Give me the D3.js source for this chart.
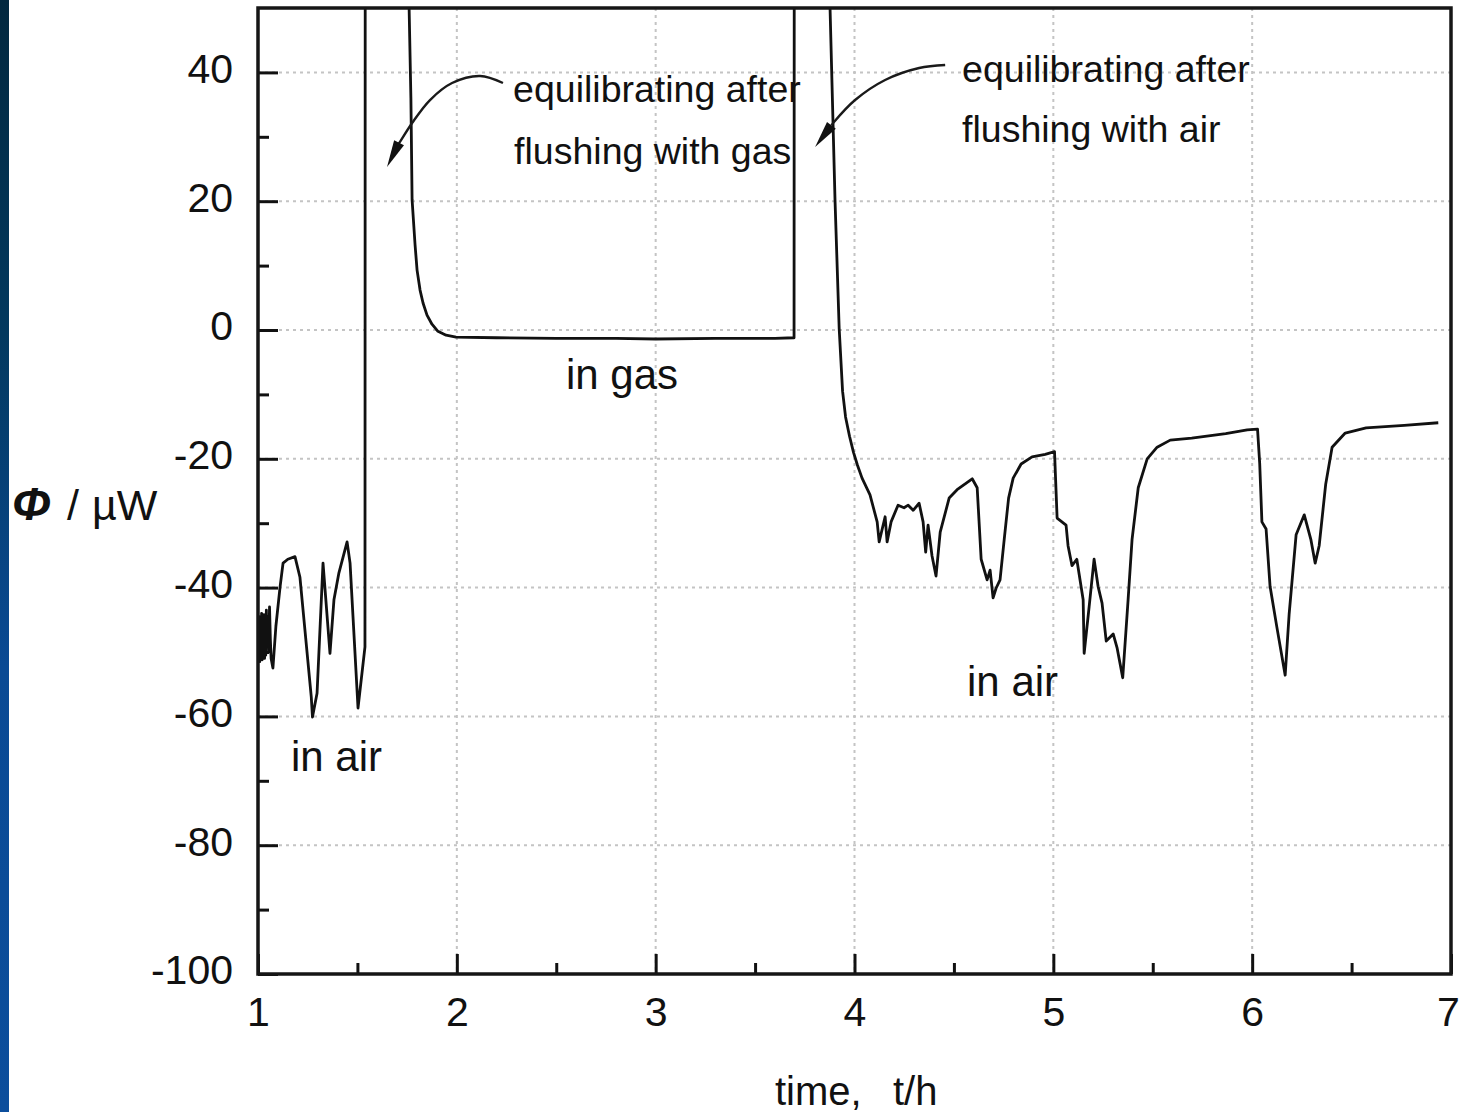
<!DOCTYPE html>
<html>
<head>
<meta charset="utf-8">
<script src="https://cdn.jsdelivr.net/npm/d3@7"></script>
<style>
  html, body { margin: 0; padding: 0; background: #fff; }
  svg { display: block; font-family: "Liberation Sans", Arial, sans-serif; }
</style>
</head>
<body>
<svg id="chart" width="1460" height="1112"></svg>
<script>
// Heat-flow trace: time in hours, heat flow in µW.
// Values beyond the top of the axis (off-scale excursions) are clipped.
const airBeforeTime  = [1.000, 1.003, 1.006, 1.009, 1.012, 1.015, 1.018, 1.021, 1.024, 1.027, 1.030, 1.033, 1.036, 1.039, 1.042, 1.046, 1.050, 1.054, 1.058, 1.062, 1.066, 1.075, 1.090, 1.111, 1.126, 1.150, 1.186, 1.211, 1.268, 1.274, 1.297, 1.327, 1.362, 1.382, 1.407, 1.448, 1.463, 1.503, 1.538];
const airBeforeValue = [-46, -51, -44.5, -51.5, -45, -50.5, -44, -51.2, -45.5, -50.8, -44.2, -51, -46, -50.5, -43.5, -49, -44.5, -50, -43, -48, -51, -52.5, -46, -39.9, -36.2, -35.6, -35.2, -38.4, -57, -60.1, -56.4, -36.2, -50.2, -41.9, -37.7, -32.9, -36.2, -58.7, -49.2];

const gasTime  = [1.540, 1.745, 1.760, 1.769, 1.775, 1.790, 1.800, 1.815, 1.830, 1.850, 1.875, 1.905, 1.946, 1.996, 2.200, 2.500, 2.800, 3.000, 3.300, 3.600, 3.696];
const gasValue = [120, 120, 50, 36, 20.2, 13.2, 9.3, 6.2, 4.2, 2.3, 0.9, -0.2, -0.8, -1.1, -1.2, -1.3, -1.3, -1.4, -1.3, -1.3, -1.2];

const airAfterTime  = [3.698, 3.852, 3.877, 3.902, 3.923, 3.940, 3.955, 3.975, 3.995, 4.015, 4.038, 4.078, 4.114, 4.124, 4.154, 4.164, 4.184, 4.219, 4.249, 4.270, 4.295, 4.325, 4.345, 4.358, 4.370, 4.390, 4.410, 4.431, 4.476, 4.516, 4.592, 4.617, 4.637, 4.667, 4.682, 4.697, 4.712, 4.732, 4.753, 4.775, 4.798, 4.838, 4.893, 4.959, 5.006, 5.019, 5.064, 5.074, 5.094, 5.118, 5.150, 5.155, 5.180, 5.205, 5.225, 5.245, 5.266, 5.301, 5.321, 5.349, 5.376, 5.396, 5.427, 5.472, 5.522, 5.588, 5.696, 5.867, 5.975, 6.027, 6.038, 6.049, 6.070, 6.090, 6.124, 6.166, 6.186, 6.221, 6.262, 6.295, 6.317, 6.337, 6.370, 6.402, 6.468, 6.573, 6.765, 6.936];
const airAfterValue = [120, 120, 50, 20.2, 0.2, -9.5, -13.5, -16.5, -19.0, -21.0, -23.0, -25.6, -29.8, -32.9, -29.0, -32.9, -29.8, -27.2, -27.6, -27.2, -28.0, -26.9, -29.8, -34.5, -30.3, -35.1, -38.2, -31.4, -26.1, -24.8, -23.1, -24.5, -35.6, -38.8, -37.3, -41.6, -40.1, -38.8, -32.5, -26.1, -23.0, -20.8, -19.7, -19.3, -18.9, -29.2, -30.3, -33.5, -36.6, -35.6, -41.9, -50.2, -43.0, -35.6, -39.8, -42.4, -48.3, -47.2, -49.4, -54.0, -41.9, -32.5, -24.5, -20.0, -18.2, -17.1, -16.8, -16.1, -15.5, -15.4, -20.8, -29.8, -30.9, -39.8, -46.1, -53.6, -44.1, -31.8, -28.7, -32.5, -36.2, -33.5, -23.9, -18.2, -16.0, -15.2, -14.8, -14.4];

// Axis ticks
const xMajorTicks = [1, 2, 3, 4, 5, 6, 7];
const xMinorTicks = [1.5, 2.5, 3.5, 4.5, 5.5, 6.5];
const yMajorTicks = [-100, -80, -60, -40, -20, 0, 20, 40];
const yMinorTicks = [-90, -70, -50, -30, -10, 10, 30];

// Text labels anchored in data units
const stateLabels = [
  { text: "in air", t: 1.166, v: -68.5 },
  { text: "in gas", t: 2.549, v: -9.2 },
  { text: "in air", t: 4.566, v: -56.8 }
];
const noteLabels = [
  { text: "equilibrating after", t: 2.283, v: 35.4 },
  { text: "flushing with gas",   t: 2.288, v: 25.7 },
  { text: "equilibrating after", t: 4.541, v: 38.5 },
  { text: "flushing with air",   t: 4.541, v: 29.2 }
];
// Curved pointer arrows, last point is the arrow tip
const arrowGas = [[2.232, 38.35], [2.117, 39.44], [1.976, 38.35], [1.865, 35.71], [1.775, 32.14], [1.704, 28.73], [1.649, 25.31]];
const arrowAir = [[4.456, 41.15], [4.325, 40.68], [4.154, 38.82], [4.003, 35.71], [3.897, 32.30], [3.802, 28.42]];

const svg = d3.select("#chart");
const W = 1460, H = 1112;
const plotL = 258, plotR = 1451, plotT = 8, plotB = 974;

const x = d3.scaleLinear().domain([1, 7]).range([plotL, plotR]);
const y = d3.scaleLinear().domain([-100, 50]).range([plotB, plotT]);

// blue slide edge on the far left
const defs = svg.append("defs");
const grad = defs.append("linearGradient").attr("id", "edgeBlue")
  .attr("x1", 0).attr("y1", 0).attr("x2", 0).attr("y2", 1);
grad.append("stop").attr("offset", "0%").attr("stop-color", "#03283f");
grad.append("stop").attr("offset", "30%").attr("stop-color", "#03395f");
grad.append("stop").attr("offset", "60%").attr("stop-color", "#0a4a94");
grad.append("stop").attr("offset", "100%").attr("stop-color", "#0c4e9c");
svg.append("rect").attr("x", 0).attr("y", 0).attr("width", W).attr("height", H).attr("fill", "#fff");
svg.append("rect").attr("x", 0).attr("y", 0).attr("width", 9).attr("height", H).attr("fill", "url(#edgeBlue)");

defs.append("clipPath").attr("id", "plotClip")
  .append("rect").attr("x", plotL).attr("y", plotT).attr("width", plotR - plotL).attr("height", plotB - plotT);

// dotted grid
const grid = svg.append("g").attr("stroke", "#c4c4c4").attr("stroke-width", 2).attr("stroke-dasharray", "3,4");
grid.selectAll("line.h").data(yMajorTicks.filter(d => d > -100)).join("line").attr("class", "h")
  .attr("x1", plotL).attr("x2", plotR).attr("y1", d => y(d)).attr("y2", d => y(d));
grid.selectAll("line.v").data(xMajorTicks.filter(d => d > 1 && d < 7)).join("line").attr("class", "v")
  .attr("y1", plotT).attr("y2", plotB).attr("x1", d => x(d)).attr("x2", d => x(d));

// data trace
const trace = airBeforeTime.map((t, i) => [t, airBeforeValue[i]])
  .concat(gasTime.map((t, i) => [t, gasValue[i]]))
  .concat(airAfterTime.map((t, i) => [t, airAfterValue[i]]));
svg.append("path")
  .attr("clip-path", "url(#plotClip)")
  .attr("d", d3.line().x(d => x(d[0])).y(d => y(d[1]))(trace))
  .attr("fill", "none").attr("stroke", "#111").attr("stroke-width", 2.8)
  .attr("stroke-linejoin", "round");

// axes with inward ticks, plain hyphen for negatives
const fs = 41;
const plainNumber = d => String(d);
const yAxis = svg.append("g").attr("transform", `translate(${plotL},0)`)
  .call(d3.axisLeft(y).tickValues(yMajorTicks).tickSize(-20).tickPadding(25).tickFormat(plainNumber));
yAxis.selectAll("text").attr("dy", "0.24em");
svg.append("g").attr("transform", `translate(${plotL},0)`)
  .call(d3.axisLeft(y).tickValues(yMinorTicks).tickSize(-11).tickFormat(""));

const xAxis = svg.append("g").attr("transform", `translate(0,${plotB})`)
  .call(d3.axisBottom(x).tickValues(xMajorTicks).tickSize(-20).tickPadding(23).tickFormat(plainNumber));
xAxis.selectAll(".tick text").filter(d => d === 7).attr("dx", -3);
svg.append("g").attr("transform", `translate(0,${plotB})`)
  .call(d3.axisBottom(x).tickValues(xMinorTicks).tickSize(-11).tickFormat(""));

svg.selectAll(".domain").remove();
svg.selectAll(".tick line").attr("stroke", "#111").attr("stroke-width", 3);
svg.selectAll(".tick text").attr("font-size", fs).attr("fill", "#111")
  .attr("font-family", "'Liberation Sans', Arial, sans-serif");

// frame
svg.append("rect").attr("x", plotL).attr("y", plotT).attr("width", plotR - plotL).attr("height", plotB - plotT)
  .attr("fill", "none").attr("stroke", "#161616").attr("stroke-width", 3.5);

// axis titles
const yTitle = svg.append("text").attr("y", 520).attr("font-size", 43).attr("fill", "#111");
yTitle.append("tspan").attr("x", 12).attr("font-style", "italic").attr("font-weight", "bold").attr("font-size", 47).text("Φ");
yTitle.append("tspan").attr("x", 67).text("/");
yTitle.append("tspan").attr("x", 92).text("µW");

const xTitle = svg.append("text").attr("y", 1105).attr("font-size", 40).attr("fill", "#111");
xTitle.append("tspan").attr("x", 775).text("time,");
xTitle.append("tspan").attr("x", 893).text("t/h");

// state labels
svg.selectAll("text.state").data(stateLabels).join("text")
  .attr("class", "state")
  .attr("x", d => x(d.t)).attr("y", d => y(d.v))
  .attr("font-size", 42).attr("fill", "#111").text(d => d.text);

// notes
svg.selectAll("text.note").data(noteLabels).join("text")
  .attr("class", "note")
  .attr("x", d => x(d.t)).attr("y", d => y(d.v))
  .attr("font-size", 37.5).attr("fill", "#111").text(d => d.text);

// curved arrows
function drawArrow(points) {
  const px = points.map(p => [x(p[0]), y(p[1])]);
  const tip = px[px.length - 1];
  const prev = px[px.length - 2];
  const dx = tip[0] - prev[0], dy = tip[1] - prev[1];
  const len = Math.hypot(dx, dy);
  const ux = dx / len, uy = dy / len;
  const headLen = 27, halfW = 5.5;
  const base = [tip[0] - ux * headLen, tip[1] - uy * headLen];
  const shaft = px.slice(0, -1).concat([base]);
  svg.append("path")
    .attr("d", d3.line().curve(d3.curveCatmullRom)(shaft))
    .attr("fill", "none").attr("stroke", "#1a1a1a").attr("stroke-width", 2.4);
  svg.append("path")
    .attr("d", `M${tip[0]},${tip[1]}L${base[0] - uy * halfW},${base[1] + ux * halfW}L${base[0] + uy * halfW},${base[1] - ux * halfW}Z`)
    .attr("fill", "#111");
}
drawArrow(arrowGas);
drawArrow(arrowAir);
</script>
</body>
</html>
